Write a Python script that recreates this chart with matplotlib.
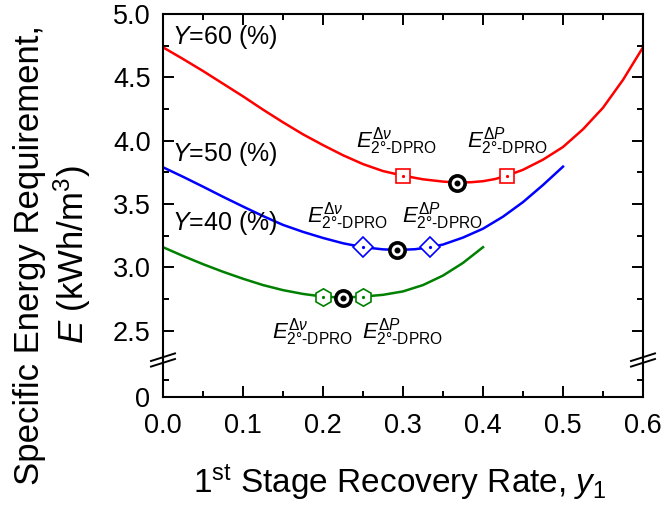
import numpy as np
import matplotlib
matplotlib.use("Agg")
import matplotlib.pyplot as plt

plt.rcParams['font.family'] = ['Liberation Sans', 'DejaVu Sans']
plt.rcParams['mathtext.fontset'] = 'custom'
plt.rcParams['mathtext.rm'] = 'Liberation Sans'
plt.rcParams['mathtext.it'] = 'Liberation Sans:italic'
plt.rcParams['mathtext.bf'] = 'Liberation Sans:bold'
plt.rcParams['mathtext.sf'] = 'Liberation Sans'

# ---------------- data ----------------
x60 = [0.000, 0.025, 0.050, 0.075, 0.100, 0.125, 0.150, 0.175, 0.200, 0.225, 0.250, 0.275,
       0.300, 0.325, 0.350, 0.3675, 0.385, 0.400, 0.415, 0.430, 0.450, 0.475, 0.500, 0.525,
       0.550, 0.575, 0.600]
e60 = [4.737, 4.645, 4.55, 4.45, 4.35, 4.245, 4.145, 4.05, 3.965, 3.885, 3.815, 3.76,
       3.724, 3.695, 3.677, 3.669, 3.672, 3.68, 3.697, 3.724, 3.77, 3.85, 3.95, 4.09,
       4.26, 4.48, 4.737]

x50 = [0.000, 0.025, 0.050, 0.075, 0.100, 0.125, 0.150, 0.175, 0.200, 0.225, 0.250, 0.275,
       0.293, 0.315, 0.334, 0.350, 0.375, 0.400, 0.425, 0.450, 0.475, 0.500]
e50 = [3.79, 3.715, 3.637, 3.557, 3.48, 3.405, 3.335, 3.28, 3.232, 3.19, 3.159, 3.142,
       3.137, 3.143, 3.159, 3.18, 3.235, 3.305, 3.40, 3.515, 3.65, 3.795]

x40 = [0.000, 0.025, 0.050, 0.075, 0.100, 0.125, 0.150, 0.175, 0.200, 0.2246, 0.250, 0.275,
       0.300, 0.325, 0.350, 0.375, 0.400]
e40 = [3.159, 3.09, 3.025, 2.965, 2.91, 2.86, 2.82, 2.79, 2.769, 2.761, 2.769, 2.783,
       2.81, 2.86, 2.935, 3.035, 3.159]

# special points: E(dnu), E(dP) and optimum
red_pts_x = [0.30, 0.43]
red_pts_y = [3.724, 3.724]
blue_pts_x = [0.25, 0.334]
blue_pts_y = [3.159, 3.159]
green_pts_x = [0.20, 0.25]
green_pts_y = [2.769, 2.769]
opt_x = [0.3675, 0.293, 0.2246]
opt_y = [3.669, 3.137, 2.761]

series_labels = ['Y=60 (%)', 'Y=50 (%)', 'Y=40 (%)']
label_y = [4.82, 3.895, 3.353]

xticks = [0.0, 0.1, 0.2, 0.3, 0.4, 0.5, 0.6]
yticks = [0, 2.5, 3.0, 3.5, 4.0, 4.5, 5.0]
yticklabels = ['0', '2.5', '3.0', '3.5', '4.0', '4.5', '5.0']
yminor = [0.25, 2.75, 3.25, 3.75, 4.25, 4.75]

# ---------------- broken y scale ----------------
_yp = [-10.0, 0.0, 0.5, 2.25, 100.0]
_mp = [1.974 - 10 * 0.532, 1.974, 2.24, 2.25, 100.0]

def fwd(y):
    return np.interp(y, _yp, _mp)

def inv(m):
    return np.interp(m, _mp, _yp)

fig = plt.figure(figsize=(6.64, 5.12), dpi=100)
ax = fig.add_axes([163 / 664, 1 - 397.3 / 512, 480 / 664, 383.3 / 512])
ax.set_yscale('function', functions=(fwd, inv))

red, blue, green = '#FF0000', '#0000FF', '#008000'
lw = 1.8
ax.plot(x60, e60, color=red, lw=lw, zorder=2)
ax.plot(x50, e50, color=blue, lw=lw, zorder=2)
ax.plot(x40, e40, color=green, lw=lw, zorder=2)

ax.plot(red_pts_x, red_pts_y, ls='none', marker='s', ms=10.5, mfc='white', mec=red, mew=1.2, zorder=3)
ax.plot(red_pts_x, red_pts_y, ls='none', marker='o', ms=1.3, mfc=red, mec=red, zorder=4)
ax.plot(blue_pts_x, blue_pts_y, ls='none', marker='D', ms=10.5, mfc='white', mec=blue, mew=1.2, zorder=3)
ax.plot(blue_pts_x, blue_pts_y, ls='none', marker='o', ms=1.3, mfc=blue, mec=blue, zorder=4)
ax.plot(green_pts_x, green_pts_y, ls='none', marker='h', ms=12.5, mfc='white', mec=green, mew=1.2, zorder=3)
ax.plot(green_pts_x, green_pts_y, ls='none', marker='o', ms=1.3, mfc=green, mec=green, zorder=4)
ax.plot(opt_x, opt_y, ls='none', marker='o', ms=11, mfc='white', mec='black', mew=2.6, zorder=5)
ax.plot(opt_x, opt_y, ls='none', marker='o', ms=3.3, mfc='black', mec='black', zorder=6)

ax.set_xlim(0, 0.6)
ax.set_ylim(0, 5.0)
ax.set_xticks(xticks)
ax.set_xticklabels([f'{v:.1f}' for v in xticks])
ax.set_xticks([0.05, 0.15, 0.25, 0.35, 0.45, 0.55], minor=True)
ax.set_yticks(yticks)
ax.set_yticklabels(yticklabels)
ax.set_yticks(yminor, minor=True)
ax.tick_params(which='both', direction='in', top=True, right=True, width=1.4, labelsize=19.5)
ax.tick_params(which='major', length=8)
ax.tick_params(which='minor', length=4.5)
ax.tick_params(axis='y', which='major', pad=9)
ax.tick_params(axis='x', which='major', pad=11)
for s in ax.spines.values():
    s.set_linewidth(1.5)

# curve labels
for lab, ly in zip(series_labels, label_y):
    ax.text(0.011, ly, '$Y$' + lab[1:], fontsize=18, ha='left', va='center')

# annotations
lab_nu = r'$E^{\Delta\nu}_{\mathrm{2\degree\text{-}DPRO}}$'
lab_P = r'$E^{\Delta P}_{\mathrm{2\degree\text{-}DPRO}}$'
ann = [(0.2925, 3.99, lab_nu), (0.431, 3.99, lab_P),
       (0.231, 3.40, lab_nu), (0.349, 3.40, lab_P),
       (0.1875, 2.48, lab_nu), (0.299, 2.48, lab_P)]
for ax_, ay_, t in ann:
    ax.text(ax_, ay_, t, fontsize=16, ha='center', va='center')

# break marks on both spines
axh, axw = 383.3, 480.0
yb = (397.3 - 360) / axh
for xs in (0.0, 1.0):
    for off in (-2.8, 2.8):
        ax.plot([xs - 12 / axw, xs + 12 / axw],
                [yb + (off - 3.8) / axh, yb + (off + 3.8) / axh],
                transform=ax.transAxes, color='black', lw=1.4, clip_on=False, zorder=10)

# axis labels
fig.text(400 / 664, 1 - 493 / 512,
         r'$1^{\mathrm{st}}$ Stage Recovery Rate, $y_{\mathrm{1}}$',
         fontsize=24, ha='center', va='baseline')
fig.text(53 / 664, 1 - 255 / 512,
         'Specific Energy Requirement,\n$E$ (kWh/m$^{3}$)',
         fontsize=25, rotation=90, ha='center', va='center', multialignment='center',
         linespacing=1.2)

fig.savefig('out.png', dpi=100)
